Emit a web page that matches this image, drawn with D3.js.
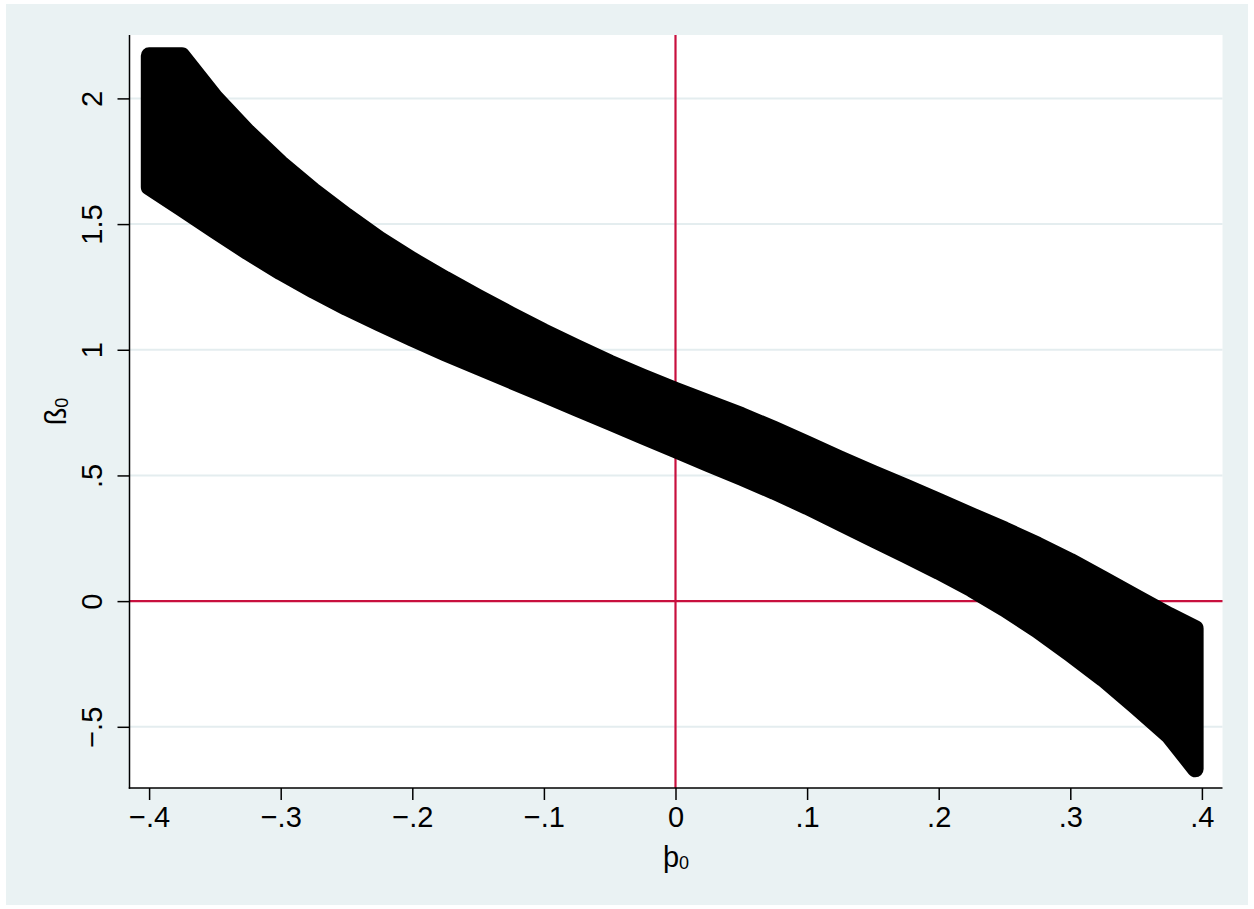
<!DOCTYPE html>
<html>
<head>
<meta charset="utf-8">
<script src="https://cdn.jsdelivr.net/npm/d3@7/dist/d3.min.js"></script>
<style>
  html, body { margin: 0; padding: 0; background: #ffffff; }
  svg { display: block; }
  text { font-family: "Liberation Sans", Arial, Helvetica, sans-serif; fill: #000; }
</style>
</head>
<body>
<svg id="chart" width="1254" height="909"></svg>
<script>
// ---- data ----
const p0Values = [-0.400, -0.375, -0.350, -0.325, -0.300, -0.275, -0.250, -0.225, -0.200, -0.175,
                  -0.150, -0.125, -0.100, -0.075, -0.050, -0.025, 0.000, 0.025, 0.050, 0.075,
                   0.100, 0.125, 0.150, 0.175, 0.200, 0.225, 0.250, 0.275, 0.300, 0.325,
                   0.350, 0.375, 0.395];
const betaUpper = [2.170, 2.170, 2.005, 1.866, 1.742, 1.632, 1.533, 1.440, 1.357, 1.281,
                   1.209, 1.139, 1.072, 1.009, 0.948, 0.892, 0.839, 0.789, 0.739, 0.684,
                   0.626, 0.566, 0.509, 0.454, 0.398, 0.340, 0.284, 0.224, 0.159, 0.088,
                   0.015, -0.056, -0.109];
const betaLower = [1.647, 1.562, 1.474, 1.389, 1.309, 1.236, 1.168, 1.106, 1.045, 0.987,
                   0.932, 0.877, 0.823, 0.767, 0.712, 0.657, 0.602, 0.546, 0.492, 0.436,
                   0.376, 0.312, 0.247, 0.183, 0.118, 0.048, -0.030, -0.115, -0.210, -0.309,
                   -0.420, -0.536, -0.668];
const xTicks = [-0.4, -0.3, -0.2, -0.1, 0, 0.1, 0.2, 0.3, 0.4];
const xTickLabels = ["\u2212.4", "\u2212.3", "\u2212.2", "\u2212.1", "0", ".1", ".2", ".3", ".4"];
const yTicks = [-0.5, 0, 0.5, 1, 1.5, 2];
const yTickLabels = ["\u2212.5", "0", ".5", "1", "1.5", "2"];
const refLinesX = [0];
const refLinesY = [0];

// ---- layout ----
const W = 1254, H = 909;
const plot = { left: 129.5, right: 1222.5, top: 35, bottom: 788 };
const bgColor = "#EAF2F3";
const gridColor = "#E4EDEF";
const refColor = "#C8103E";
const markerR = 8.3;

const svg = d3.select("#chart");

// outer graph region
svg.append("rect").attr("x", 6).attr("y", 4).attr("width", W - 12).attr("height", H - 8)
  .attr("fill", bgColor);
// plot region
svg.append("rect").attr("x", plot.left).attr("y", plot.top)
  .attr("width", plot.right - plot.left).attr("height", plot.bottom - plot.top)
  .attr("fill", "#ffffff");

const x = d3.scaleLinear().domain([-0.4, 0.4]).range([149.1, 1201.9]);
const y = d3.scaleLinear().domain([-0.5, 2]).range([726.8, 98.4]);

// gridlines
svg.append("g").selectAll("line").data(yTicks).join("line")
  .attr("x1", plot.left).attr("x2", plot.right)
  .attr("y1", d => y(d)).attr("y2", d => y(d))
  .attr("stroke", gridColor).attr("stroke-width", 2);

// reference lines
svg.append("g").selectAll("line").data(refLinesY).join("line")
  .attr("x1", plot.left).attr("x2", plot.right)
  .attr("y1", d => y(d)).attr("y2", d => y(d))
  .attr("stroke", refColor).attr("stroke-width", 2.2);
svg.append("g").selectAll("line").data(refLinesX).join("line")
  .attr("y1", plot.top).attr("y2", plot.bottom)
  .attr("x1", d => x(d)).attr("x2", d => x(d))
  .attr("stroke", refColor).attr("stroke-width", 2.2);

// band of scatter markers (centres region, dilated by marker radius)
const bandData = p0Values.map((p, i) => ({ p: p, hi: betaUpper[i], lo: betaLower[i] }));
const area = d3.area()
  .x(d => x(d.p))
  .y0(d => y(d.lo))
  .y1(d => y(d.hi))
  .curve(d3.curveLinear);
svg.append("path").datum(bandData)
  .attr("d", area)
  .attr("fill", "#000")
  .attr("stroke", "#000")
  .attr("stroke-width", markerR * 2)
  .attr("stroke-linejoin", "round");

// axes
const xAxis = d3.axisBottom(x).tickValues(xTicks)
  .tickFormat((d, i) => xTickLabels[i]).tickSize(12).tickPadding(6).tickSizeOuter(0);
const gx = svg.append("g").attr("transform", `translate(0,${plot.bottom})`).call(xAxis);
gx.select(".domain").remove();
gx.selectAll(".tick line").attr("stroke", "#000").attr("stroke-width", 1.5);
gx.selectAll(".tick text").attr("font-size", 29).attr("font-family", "Liberation Sans, Arial, sans-serif")
  .attr("fill", "#000").attr("dy", "0.72em");

const yAxis = d3.axisLeft(y).tickValues(yTicks)
  .tickFormat((d, i) => yTickLabels[i]).tickSize(12).tickSizeOuter(0);
const gy = svg.append("g").attr("transform", `translate(${plot.left},0)`).call(yAxis);
gy.select(".domain").remove();
gy.selectAll(".tick line").attr("stroke", "#000").attr("stroke-width", 1.5);
gy.selectAll(".tick text")
  .attr("font-size", 29).attr("font-family", "Liberation Sans, Arial, sans-serif").attr("fill", "#000")
  .attr("x", null).attr("dy", null)
  .attr("text-anchor", "middle")
  .attr("transform", "translate(-28,0) rotate(-90)");

// axis lines
svg.append("line").attr("x1", plot.left).attr("x2", plot.left)
  .attr("y1", plot.top).attr("y2", plot.bottom + 0.75)
  .attr("stroke", "#000").attr("stroke-width", 1.5);
svg.append("line").attr("x1", plot.left - 0.75).attr("x2", plot.right)
  .attr("y1", plot.bottom).attr("y2", plot.bottom)
  .attr("stroke", "#000").attr("stroke-width", 1.5);

// axis titles
const xt = svg.append("text").attr("x", (plot.left + plot.right) / 2).attr("y", 867)
  .attr("text-anchor", "middle").attr("font-size", 29);
xt.append("tspan").text("\u00FE");
xt.append("tspan").attr("font-size", 18).attr("dy", 2).text("0");

const yt = svg.append("text")
  .attr("transform", `translate(66,${(plot.top + plot.bottom) / 2}) rotate(-90)`)
  .attr("text-anchor", "middle").attr("font-size", 29);
yt.append("tspan").text("\u00DF");
yt.append("tspan").attr("font-size", 18).attr("dy", 2).text("0");
</script>
</body>
</html>
